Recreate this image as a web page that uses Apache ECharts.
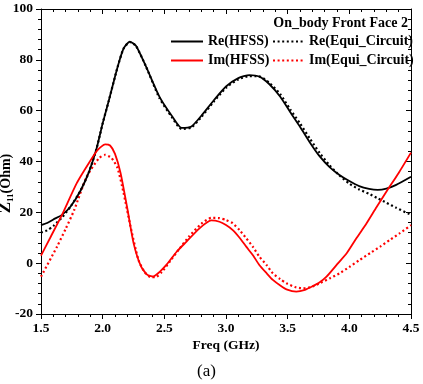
<!DOCTYPE html>
<html>
<head>
<meta charset="utf-8">
<script src="https://cdn.jsdelivr.net/npm/echarts@6/dist/echarts.min.js"></script>
<style>
html,body{margin:0;padding:0;background:#fff;}
#c{width:423px;height:384px;}
</style>
</head>
<body>
<div id="c"></div>
<script>
// ---- data ----
const xTicks = [1.5, 2.0, 2.5, 3.0, 3.5, 4.0, 4.5];
const yTicks = [-20, 0, 20, 40, 60, 80, 100];

const reHfssF = [1.50,1.55,1.60,1.67,1.74,1.82,1.89,1.95,2.00,2.05,2.12,2.17,2.22,2.27,2.35,2.46,2.56,2.64,2.72,2.80,2.90,3.00,3.10,3.19,3.27,3.35,3.44,3.52,3.60,3.68,3.76,3.84,3.92,4.00,4.08,4.16,4.23,4.30,4.38,4.50];
const reHfss  = [15,15.8,17.2,19,22.3,28.5,36,45,55,64,77,84.5,87.2,85.5,77.5,65.5,58,53.2,53.8,58,64,69.5,72.8,74,73.4,70.5,65.5,59.5,53.7,47.5,42,37.8,34.7,32.3,30.3,29.2,28.8,29.3,30.8,34];

const reEquiF = [1.50,1.55,1.60,1.67,1.74,1.82,1.89,1.95,2.00,2.05,2.12,2.17,2.22,2.27,2.35,2.46,2.56,2.64,2.72,2.80,2.90,3.00,3.10,3.19,3.27,3.35,3.44,3.52,3.60,3.68,3.76,3.84,3.92,4.00,4.08,4.16,4.23,4.30,4.38,4.50];
const reEqui  = [12,12.9,14.6,18,22.3,28.5,36,45,55,64,77,84.5,87,85.5,77.5,65,57.5,52.8,53.4,57.5,63.5,69,72.3,73.6,73.5,71,66.5,60.5,55,49,43.3,38.5,34.5,31.3,29,27.3,25.5,23.8,21.8,19];

const imHfssF = [1.50,1.58,1.67,1.79,1.90,1.96,2.02,2.06,2.10,2.145,2.20,2.25,2.31,2.36,2.41,2.46,2.52,2.60,2.68,2.785,2.88,2.947,3.00,3.055,3.11,3.164,3.22,3.27,3.33,3.38,3.44,3.49,3.57,3.64,3.705,3.76,3.815,3.90,3.98,4.06,4.14,4.22,4.30,4.40,4.50];
const imHfss  = [3,10.5,19,31.5,40.3,44.6,46.7,46.3,43,35.5,21.5,8,-1.2,-4.5,-5.2,-3.5,-0.5,4.5,8.5,13.7,16.8,16.3,15,13,10,6.5,3,-0.7,-4,-6.6,-8.8,-10.3,-11.2,-10.5,-9,-7.5,-5.3,-0.5,4,10,15.7,22,28.1,35.5,43.5];

const imEquiF = [1.50,1.63,1.70,1.77,1.87,1.97,2.02,2.07,2.12,2.17,2.226,2.29,2.34,2.39,2.43,2.48,2.55,2.62,2.70,2.80,2.88,2.947,3.00,3.055,3.11,3.164,3.22,3.27,3.33,3.38,3.44,3.49,3.56,3.625,3.69,3.76,3.84,3.92,4.00,4.085,4.17,4.25,4.33,4.41,4.50];
const imEqui  = [-5.3,6.5,13.5,21,34,41.3,42.6,41.5,37.5,27.5,14.4,1.3,-3.5,-5.5,-5.5,-3.5,1,5.5,10.5,15.5,17.8,17.7,17,15.7,13,9.8,6.3,2.6,-0.8,-4,-6.3,-7.9,-9.4,-9.9,-9.4,-7.9,-6,-4,-1.5,1.3,4,6.5,9.2,11.8,15];

const names = ['Re(HFSS)', 'Re(Equi_Circuit)', 'Im(HFSS)', 'Im(Equi_Circuit)'];
const titleText = 'On_body Front Face 2';

// ---- build ----
const zip = (xs, ys) => xs.map((x, i) => [x, ys[i]]);
const FONT = 'Liberation Serif';
const dotted = [2, 2.6];

const chart = echarts.init(document.getElementById('c'), null, {renderer: 'canvas'});

const baseX = {
  type: 'value', min: xTicks[0], max: xTicks[xTicks.length - 1], interval: 0.5,
  splitLine: {show: false},
  axisLine: {show: true, onZero: false, lineStyle: {color: '#000', width: 1}},
};
const baseY = {
  type: 'value', min: yTicks[0], max: yTicks[yTicks.length - 1], interval: 20,
  splitLine: {show: false},
  axisLine: {show: true, onZero: false, lineStyle: {color: '#000', width: 1}},
};

function line(name, xs, ys, color, type, z) {
  return {
    name, type: 'line', data: zip(xs, ys), showSymbol: false, symbol: 'none',
    smooth: 0.2, z: z,
    lineStyle: {color, width: type === 'solid' ? 1.8 : 2.2, type, cap: 'butt'},
    itemStyle: {color},
    emphasis: {disabled: true}, silent: true, animation: false
  };
}

const legendText = {fontFamily: FONT, fontWeight: 'bold', fontSize: 14, color: '#000', lineHeight: 14};

chart.setOption({
  animation: false,
  backgroundColor: '#fff',
  title: {
    text: titleText, right: 15, top: 16, padding: 0,
    textStyle: {fontFamily: FONT, fontWeight: 'bold', fontSize: 14, color: '#000', lineHeight: 14}
  },
  legend: [
    {
      data: [names[0], names[2]], orient: 'vertical', left: 170, top: 34.5, padding: 0,
      itemWidth: 32, itemHeight: 10, itemGap: 5, itemStyle: {opacity: 0}, textStyle: legendText
    },
    {
      data: [names[1], names[3]], orient: 'vertical', left: 272, top: 34.5, padding: 0,
      itemWidth: 31, itemHeight: 10, itemGap: 5, itemStyle: {opacity: 0}, textStyle: legendText
    }
  ],
  grid: {left: 41, right: 12, top: 9, bottom: 70, containLabel: false, outerBoundsMode: 'none'},
  xAxis: [
    Object.assign({}, baseX, {
      position: 'bottom',
      name: 'Freq (GHz)', nameLocation: 'middle', nameGap: 25, nameMoveOverlap: false,
      nameTextStyle: {fontFamily: FONT, fontWeight: 'bold', fontSize: 13.5, color: '#000'},
      axisTick: {show: true, inside: false, length: 5, lineStyle: {color: '#000'}},
      minorTick: {show: true, splitNumber: 5, length: 3, lineStyle: {color: '#000'}},
      axisLabel: {show: true, margin: 8, fontFamily: FONT, fontWeight: 'bold', fontSize: 13.5, color: '#000',
        formatter: v => v.toFixed(1)}
    }),
    Object.assign({}, baseX, {
      position: 'top',
      axisTick: {show: true, inside: true, length: 5, lineStyle: {color: '#000'}},
      minorTick: {show: true, splitNumber: 5, length: 3, lineStyle: {color: '#000'}},
      axisLabel: {show: false}
    })
  ],
  yAxis: [
    Object.assign({}, baseY, {
      position: 'left',
      name: '{z|Z}{s|11}{o|(Ohm)}', nameLocation: 'middle', nameGap: 26, nameRotate: 90,
      nameMoveOverlap: false,
      nameTextStyle: {
        fontFamily: FONT, fontWeight: 'bold', color: '#000', padding: [0, 44, 0, 0],
        rich: {
          z: {fontFamily: FONT, fontWeight: 'bold', fontSize: 17, color: '#000', lineHeight: 18},
          s: {fontFamily: FONT, fontWeight: 'bold', fontSize: 9, color: '#000', verticalAlign: 'bottom', lineHeight: 12, padding: [5, 0, 0, 0]},
          o: {fontFamily: FONT, fontWeight: 'bold', fontSize: 14, color: '#000', lineHeight: 18}
        }
      },
      axisTick: {show: true, inside: false, length: 5, lineStyle: {color: '#000'}},
      minorTick: {show: true, splitNumber: 5, length: 3, lineStyle: {color: '#000'}},
      axisLabel: {show: true, margin: 8, fontFamily: FONT, fontWeight: 'bold', fontSize: 13.5, color: '#000'}
    }),
    Object.assign({}, baseY, {
      position: 'right',
      axisTick: {show: true, inside: true, length: 5, lineStyle: {color: '#000'}},
      minorTick: {show: true, splitNumber: 5, length: 3, lineStyle: {color: '#000'}},
      axisLabel: {show: false}
    })
  ],
  graphic: [
    {type: 'text', left: 197, top: 363,
      style: {text: '(a)', fontFamily: FONT, fontSize: 17, fill: '#000'}}
  ],
  series: [
    line(names[0], reHfssF, reHfss, '#000000', 'solid', 3),
    line(names[1], reEquiF, reEqui, '#000000', dotted, 2),
    line(names[2], imHfssF, imHfss, '#ff0000', 'solid', 3),
    line(names[3], imEquiF, imEqui, '#ff0000', dotted, 2)
  ]
});
</script>
</body>
</html>
